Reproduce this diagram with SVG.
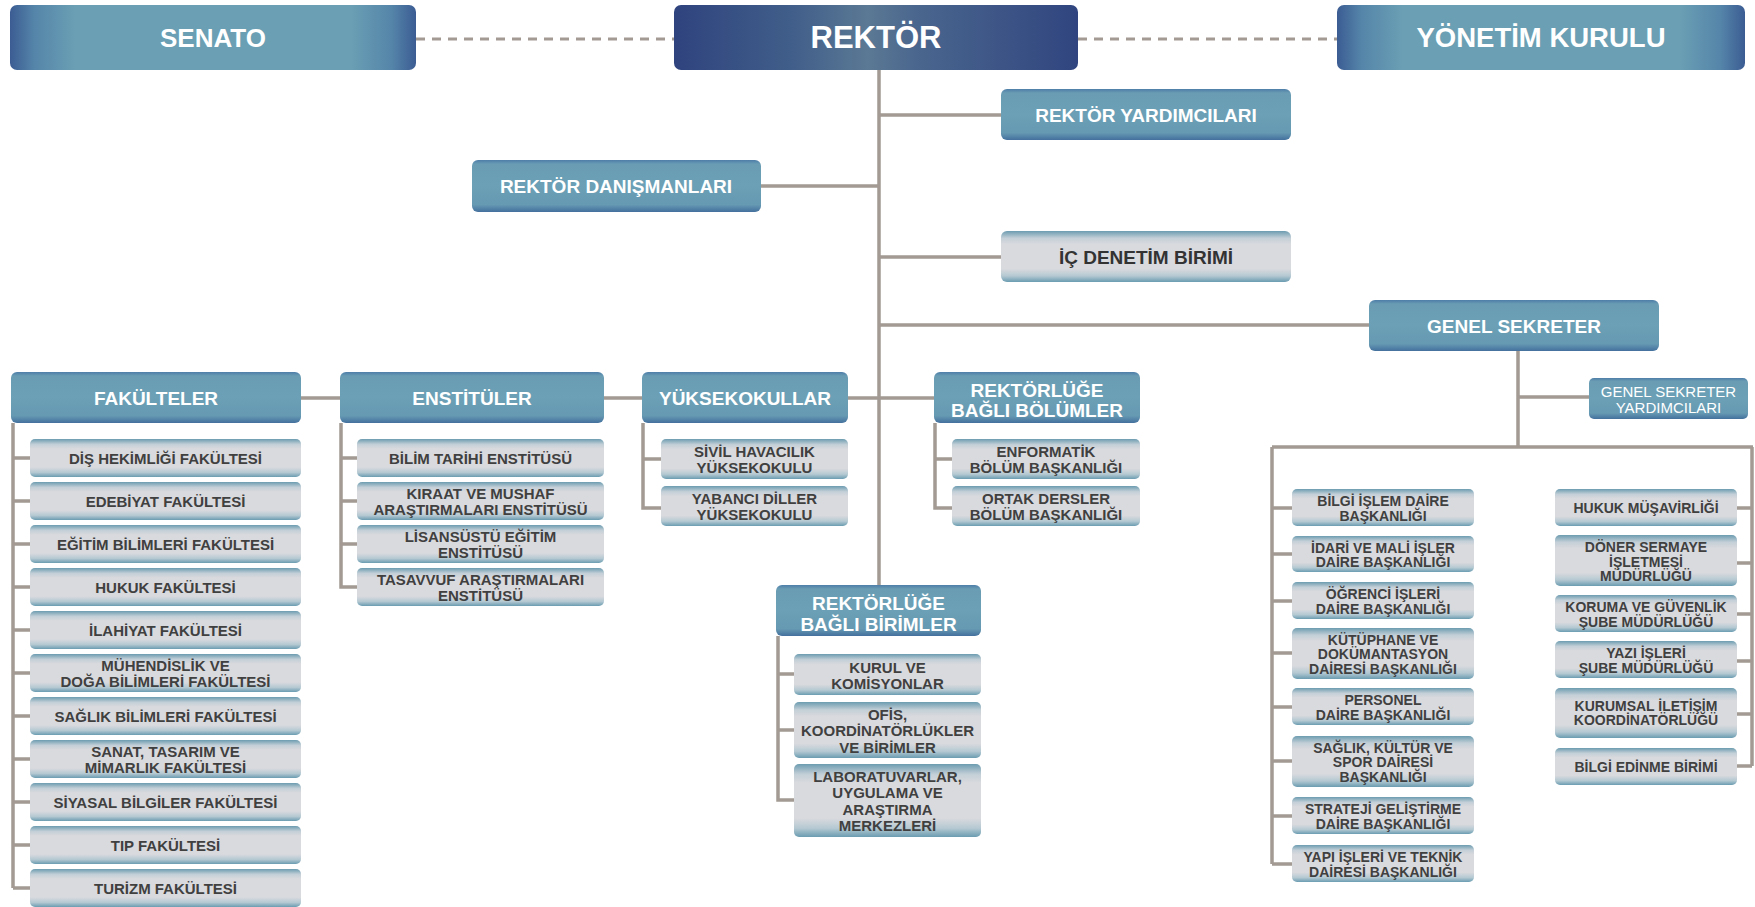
<svg xmlns="http://www.w3.org/2000/svg" width="1755" height="907" viewBox="0 0 1755 907">
<defs>
<linearGradient id="gTop" x1="0" y1="0" x2="1" y2="0">
<stop offset="0" stop-color="#3b5c93"/><stop offset="0.06" stop-color="#5585a9"/><stop offset="0.16" stop-color="#6a9fb4"/><stop offset="0.84" stop-color="#6a9fb4"/><stop offset="0.94" stop-color="#5585a9"/><stop offset="1" stop-color="#3b5c93"/>
</linearGradient>
<linearGradient id="gRek" x1="0" y1="0" x2="1" y2="0">
<stop offset="0" stop-color="#2f437e"/><stop offset="0.3" stop-color="#415f8a"/><stop offset="0.48" stop-color="#5b7994"/><stop offset="0.6" stop-color="#4a668e"/><stop offset="1" stop-color="#30457f"/>
</linearGradient>
<linearGradient id="gBlue" x1="0" y1="0" x2="0" y2="1">
<stop offset="0" stop-color="#4e7ea8"/><stop offset="0.08" stop-color="#6a9db4"/><stop offset="0.5" stop-color="#6ba0b6"/><stop offset="0.86" stop-color="#6699b2"/><stop offset="1" stop-color="#43709d"/>
</linearGradient>
<linearGradient id="gGray" x1="0" y1="0" x2="0" y2="1">
<stop offset="0" stop-color="#6c9cb0"/><stop offset="0.14" stop-color="#c3cfd7"/><stop offset="0.26" stop-color="#d9dade"/><stop offset="0.74" stop-color="#d9dade"/><stop offset="0.88" stop-color="#b5c9d2"/><stop offset="1" stop-color="#6a9cb1"/>
</linearGradient>
</defs>
<style>
.top{fill:url(#gTop)}
.rek{fill:url(#gRek)}
.b{fill:url(#gBlue)}
.gr{fill:url(#gGray)}
text{font-family:"Liberation Sans",Arial,sans-serif;text-anchor:middle}
.tb{font-weight:bold;font-size:26px;fill:#fff}
.h{font-weight:bold;font-size:19px;fill:#fff}
.hd{font-weight:bold;font-size:19px;fill:#333}
.s{font-weight:bold;font-size:15px;fill:#404040}
.g{font-weight:bold;font-size:14px;fill:#404040}
.gy{font-size:15px;fill:#fff}
.c{stroke:#a39a94;stroke-width:3.5;fill:none}
.d{stroke:#a39a94;stroke-width:3;fill:none;stroke-dasharray:9 7}
</style>

<g id="connectors">
<path class="d" d="M416 39H674M1078 39H1337"/>
<path class="c" d="M879 70V585M879 115H1001M761 186H879M879 257H1001M879 325H1369"/>
<path class="c" d="M1518 351V447M1518 397H1589M1272 447H1753M1272 447V864M1752 447V766"/>
<path class="c" d="M1272 508H1292M1272 554H1292M1272 601H1292M1272 653H1292M1272 707H1292M1272 761H1292M1272 816H1292M1272 864H1292"/>
<path class="c" d="M1737 508H1752M1737 563H1752M1737 614H1752M1737 661H1752M1737 714H1752M1737 766H1752"/>
<path class="c" d="M301 398H340M604 398H642M848 398H934"/>
<path class="c" d="M13 423V888M13 458H30M13 501H30M13 544H30M13 587H30M13 630H30M13 673H30M13 716H30M13 759H30M13 802H30M13 845H30M13 888H30"/>
<path class="c" d="M341 423V587H357M341 458H357M341 501H357M341 544H357"/>
<path class="c" d="M643 423V508H661M643 459H661"/>
<path class="c" d="M935 423V508H952M935 459H952"/>
<path class="c" d="M778 636V800H794M778 674H794M778 730H794"/>
</g>

<g id="senato"><rect class="top" x="10" y="5" width="406" height="65" rx="7"/><text class="tb" x="213" y="47">SENATO</text></g>
<g id="rektor"><rect class="rek" x="674" y="5" width="404" height="65" rx="7"/><text class="tb" x="876" y="48" style="font-size:31px">REKTÖR</text></g>
<g id="yonetim-kurulu"><rect class="top" x="1337" y="5" width="408" height="65" rx="7"/><text class="tb" x="1541" y="47" style="font-size:27.5px">YÖNETİM KURULU</text></g>

<g id="rektor-yardimcilari"><rect class="b" x="1001" y="89" width="290" height="51" rx="6"/><text class="h" x="1146" y="122">REKTÖR YARDIMCILARI</text></g>
<g id="rektor-danismanlari"><rect class="b" x="472" y="160" width="289" height="52" rx="6"/><text class="h" x="616" y="193">REKTÖR DANIŞMANLARI</text></g>
<g id="ic-denetim"><rect class="gr" x="1001" y="231" width="290" height="51" rx="6"/><text class="hd" x="1146" y="264">İÇ DENETİM BİRİMİ</text></g>
<g id="genel-sekreter"><rect class="b" x="1369" y="300" width="290" height="51" rx="6"/><text class="h" x="1514" y="333">GENEL SEKRETER</text></g>
<g id="gs-yardimcilari"><rect class="b" x="1589" y="378" width="159" height="41" rx="5"/><text class="gy" x="1668.5" y="397">GENEL SEKRETER</text><text class="gy" x="1668.5" y="413">YARDIMCILARI</text></g>

<g id="fakulteler"><rect class="b" x="11" y="372" width="290" height="51" rx="6"/><text class="h" x="156" y="405">FAKÜLTELER</text></g>
<g id="enstituler"><rect class="b" x="340" y="372" width="264" height="51" rx="6"/><text class="h" x="472" y="405">ENSTİTÜLER</text></g>
<g id="yuksekokullar"><rect class="b" x="642" y="372" width="206" height="51" rx="6"/><text class="h" x="745" y="405">YÜKSEKOKULLAR</text></g>
<g id="bagli-bolumler"><rect class="b" x="934" y="372" width="206" height="51" rx="6"/><text class="h" x="1037" y="396.5">REKTÖRLÜĞE</text><text class="h" x="1037" y="417">BAĞLI BÖLÜMLER</text></g>
<g id="bagli-birimler"><rect class="b" x="776" y="585" width="205" height="51" rx="6"/><text class="h" x="878.5" y="609.5">REKTÖRLÜĞE</text><text class="h" x="878.5" y="630.5">BAĞLI BİRİMLER</text></g>

<g id="f1"><rect class="gr" x="30" y="439" width="271" height="38" rx="5"/><text class="s" x="165.5" y="463.5">DİŞ HEKİMLİĞİ FAKÜLTESİ</text></g>
<g id="f2"><rect class="gr" x="30" y="482" width="271" height="38" rx="5"/><text class="s" x="165.5" y="506.5">EDEBİYAT FAKÜLTESİ</text></g>
<g id="f3"><rect class="gr" x="30" y="525" width="271" height="38" rx="5"/><text class="s" x="165.5" y="549.5">EĞİTİM BİLİMLERİ FAKÜLTESİ</text></g>
<g id="f4"><rect class="gr" x="30" y="568" width="271" height="38" rx="5"/><text class="s" x="165.5" y="592.5">HUKUK FAKÜLTESİ</text></g>
<g id="f5"><rect class="gr" x="30" y="611" width="271" height="38" rx="5"/><text class="s" x="165.5" y="635.5">İLAHİYAT FAKÜLTESİ</text></g>
<g id="f6"><rect class="gr" x="30" y="654" width="271" height="38" rx="5"/><text class="s" x="165.5" y="670.5">MÜHENDİSLİK VE</text><text class="s" x="165.5" y="686.5">DOĞA BİLİMLERİ FAKÜLTESİ</text></g>
<g id="f7"><rect class="gr" x="30" y="697" width="271" height="38" rx="5"/><text class="s" x="165.5" y="721.5">SAĞLIK BİLİMLERİ FAKÜLTESİ</text></g>
<g id="f8"><rect class="gr" x="30" y="740" width="271" height="38" rx="5"/><text class="s" x="165.5" y="756.5">SANAT, TASARIM VE</text><text class="s" x="165.5" y="772.5">MİMARLIK FAKÜLTESİ</text></g>
<g id="f9"><rect class="gr" x="30" y="783" width="271" height="38" rx="5"/><text class="s" x="165.5" y="807.5">SİYASAL BİLGİLER FAKÜLTESİ</text></g>
<g id="f10"><rect class="gr" x="30" y="826" width="271" height="38" rx="5"/><text class="s" x="165.5" y="850.5">TIP FAKÜLTESİ</text></g>
<g id="f11"><rect class="gr" x="30" y="869" width="271" height="38" rx="5"/><text class="s" x="165.5" y="893.5">TURİZM FAKÜLTESİ</text></g>

<g id="e1"><rect class="gr" x="357" y="439" width="247" height="38" rx="5"/><text class="s" x="480.5" y="463.5">BİLİM TARİHİ ENSTİTÜSÜ</text></g>
<g id="e2"><rect class="gr" x="357" y="482" width="247" height="38" rx="5"/><text class="s" x="480.5" y="498.5">KIRAAT VE MUSHAF</text><text class="s" x="480.5" y="514.5">ARAŞTIRMALARI ENSTİTÜSÜ</text></g>
<g id="e3"><rect class="gr" x="357" y="525" width="247" height="38" rx="5"/><text class="s" x="480.5" y="541.5">LİSANSÜSTÜ EĞİTİM</text><text class="s" x="480.5" y="557.5">ENSTİTÜSÜ</text></g>
<g id="e4"><rect class="gr" x="357" y="568" width="247" height="38" rx="5"/><text class="s" x="480.5" y="584.5">TASAVVUF ARAŞTIRMALARI</text><text class="s" x="480.5" y="600.5">ENSTİTÜSÜ</text></g>

<g id="y1"><rect class="gr" x="661" y="439" width="187" height="40" rx="5"/><text class="s" x="754.5" y="457">SİVİL HAVACILIK</text><text class="s" x="754.5" y="473">YÜKSEKOKULU</text></g>
<g id="y2"><rect class="gr" x="661" y="486" width="187" height="40" rx="5"/><text class="s" x="754.5" y="504">YABANCI DİLLER</text><text class="s" x="754.5" y="520">YÜKSEKOKULU</text></g>

<g id="b1"><rect class="gr" x="952" y="439" width="188" height="40" rx="5"/><text class="s" x="1046" y="457">ENFORMATİK</text><text class="s" x="1046" y="473">BÖLÜM BAŞKANLIĞI</text></g>
<g id="b2"><rect class="gr" x="952" y="486" width="188" height="40" rx="5"/><text class="s" x="1046" y="504">ORTAK DERSLER</text><text class="s" x="1046" y="520">BÖLÜM BAŞKANLIĞI</text></g>

<g id="r1"><rect class="gr" x="794" y="654" width="187" height="41" rx="5"/><text class="s" x="887.5" y="672.5">KURUL VE</text><text class="s" x="887.5" y="689">KOMİSYONLAR</text></g>
<g id="r2"><rect class="gr" x="794" y="702" width="187" height="56" rx="5"/><text class="s" x="887.5" y="719.5">OFİS,</text><text class="s" x="887.5" y="736">KOORDİNATÖRLÜKLER</text><text class="s" x="887.5" y="752.5">VE BİRİMLER</text></g>
<g id="r3"><rect class="gr" x="794" y="764" width="187" height="73" rx="5"/><text class="s" x="887.5" y="781.5">LABORATUVARLAR,</text><text class="s" x="887.5" y="798">UYGULAMA VE</text><text class="s" x="887.5" y="814.5">ARAŞTIRMA</text><text class="s" x="887.5" y="831">MERKEZLERİ</text></g>

<g id="gl1"><rect class="gr" x="1292" y="489" width="182" height="37" rx="5"/><text class="g" x="1383" y="506">BİLGİ İŞLEM DAİRE</text><text class="g" x="1383" y="520.5">BAŞKANLIĞI</text></g>
<g id="gl2"><rect class="gr" x="1292" y="536" width="182" height="36" rx="5"/><text class="g" x="1383" y="552.5">İDARİ VE MALİ İŞLER</text><text class="g" x="1383" y="567">DAİRE BAŞKANLIĞI</text></g>
<g id="gl3"><rect class="gr" x="1292" y="582" width="182" height="37" rx="5"/><text class="g" x="1383" y="599">ÖĞRENCİ İŞLERİ</text><text class="g" x="1383" y="613.5">DAİRE BAŞKANLIĞI</text></g>
<g id="gl4"><rect class="gr" x="1292" y="628" width="182" height="51" rx="5"/><text class="g" x="1383" y="644.5">KÜTÜPHANE VE</text><text class="g" x="1383" y="659">DOKÜMANTASYON</text><text class="g" x="1383" y="673.5">DAİRESİ BAŞKANLIĞI</text></g>
<g id="gl5"><rect class="gr" x="1292" y="688" width="182" height="37" rx="5"/><text class="g" x="1383" y="705">PERSONEL</text><text class="g" x="1383" y="719.5">DAİRE BAŞKANLIĞI</text></g>
<g id="gl6"><rect class="gr" x="1292" y="736" width="182" height="51" rx="5"/><text class="g" x="1383" y="752.5">SAĞLIK, KÜLTÜR VE</text><text class="g" x="1383" y="767">SPOR DAİRESİ</text><text class="g" x="1383" y="781.5">BAŞKANLIĞI</text></g>
<g id="gl7"><rect class="gr" x="1292" y="797" width="182" height="37" rx="5"/><text class="g" x="1383" y="814">STRATEJİ GELİŞTİRME</text><text class="g" x="1383" y="828.5">DAİRE BAŞKANLIĞI</text></g>
<g id="gl8"><rect class="gr" x="1292" y="845" width="182" height="37" rx="5"/><text class="g" x="1383" y="862">YAPI İŞLERİ VE TEKNİK</text><text class="g" x="1383" y="876.5">DAİRESİ BAŞKANLIĞI</text></g>

<g id="gr1"><rect class="gr" x="1555" y="489" width="182" height="37" rx="5"/><text class="g" x="1646" y="513">HUKUK MÜŞAVİRLİĞİ</text></g>
<g id="gr2"><rect class="gr" x="1555" y="535" width="182" height="51" rx="5"/><text class="g" x="1646" y="552">DÖNER SERMAYE</text><text class="g" x="1646" y="566.5">İŞLETMESİ</text><text class="g" x="1646" y="581">MÜDÜRLÜĞÜ</text></g>
<g id="gr3"><rect class="gr" x="1555" y="595" width="182" height="37" rx="5"/><text class="g" x="1646" y="612">KORUMA VE GÜVENLİK</text><text class="g" x="1646" y="626.5">ŞUBE MÜDÜRLÜĞÜ</text></g>
<g id="gr4"><rect class="gr" x="1555" y="641" width="182" height="37" rx="5"/><text class="g" x="1646" y="658">YAZI İŞLERİ</text><text class="g" x="1646" y="672.5">ŞUBE MÜDÜRLÜĞÜ</text></g>
<g id="gr5"><rect class="gr" x="1555" y="688" width="182" height="50" rx="5"/><text class="g" x="1646" y="710.5">KURUMSAL İLETİŞİM</text><text class="g" x="1646" y="725">KOORDİNATÖRLÜĞÜ</text></g>
<g id="gr6"><rect class="gr" x="1555" y="748" width="182" height="37" rx="5"/><text class="g" x="1646" y="772">BİLGİ EDİNME BİRİMİ</text></g>
</svg>
